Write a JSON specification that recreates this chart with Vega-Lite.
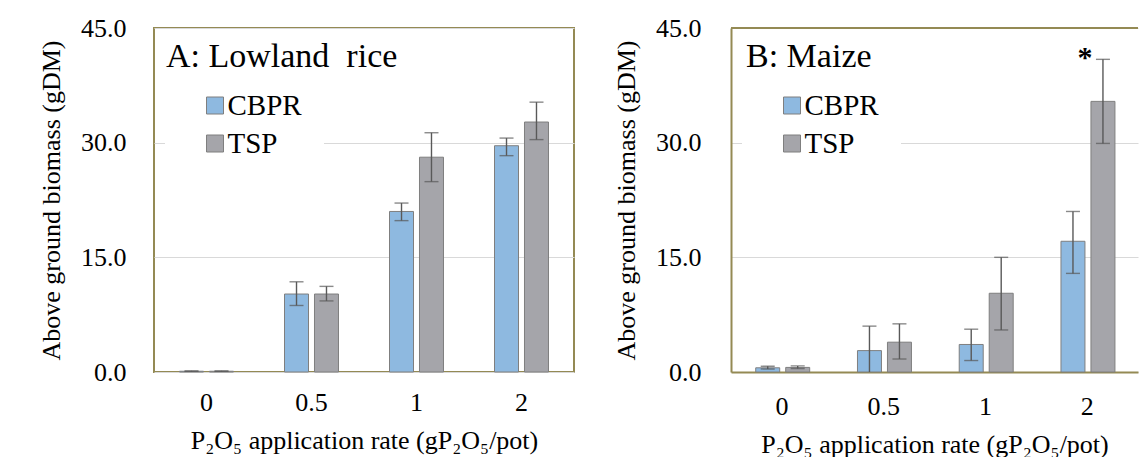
{
  "$schema": "https://vega.github.io/schema/vega-lite/v6.json",
  "background": "white",
  "padding": {"left": 37, "top": 14, "right": 0, "bottom": 0},
  "datasets": {
    "rice": [
      {"rate": "0", "type": "CBPR", "mean": 0.1, "lo": 0.05, "hi": 0.15},
      {"rate": "0", "type": "TSP", "mean": 0.1, "lo": 0.05, "hi": 0.15},
      {"rate": "0.5", "type": "CBPR", "mean": 10.2, "lo": 8.7, "hi": 11.8},
      {"rate": "0.5", "type": "TSP", "mean": 10.2, "lo": 9.3, "hi": 11.2},
      {"rate": "1", "type": "CBPR", "mean": 21.0, "lo": 19.8, "hi": 22.1},
      {"rate": "1", "type": "TSP", "mean": 28.1, "lo": 24.9, "hi": 31.3},
      {"rate": "2", "type": "CBPR", "mean": 29.6, "lo": 28.3, "hi": 30.6},
      {"rate": "2", "type": "TSP", "mean": 32.7, "lo": 30.4, "hi": 35.3}
    ],
    "maize": [
      {"rate": "0", "type": "CBPR", "mean": 0.55, "lo": 0.4, "hi": 0.75},
      {"rate": "0", "type": "TSP", "mean": 0.6, "lo": 0.45, "hi": 0.8},
      {"rate": "0.5", "type": "CBPR", "mean": 2.8, "lo": -0.4, "hi": 6.0},
      {"rate": "0.5", "type": "TSP", "mean": 3.9, "lo": 1.7, "hi": 6.3},
      {"rate": "1", "type": "CBPR", "mean": 3.6, "lo": 1.5, "hi": 5.6},
      {"rate": "1", "type": "TSP", "mean": 10.3, "lo": 5.5, "hi": 15.0},
      {"rate": "2", "type": "CBPR", "mean": 17.1, "lo": 12.9, "hi": 21.0},
      {"rate": "2", "type": "TSP", "mean": 35.4, "lo": 29.9, "hi": 40.9}
    ],
    "star": [
      {"rate": "2", "type": "TSP", "hi": 40.9, "label": "*"}
    ]
  },
  "config": {
    "font": "Liberation Serif",
    "view": {"stroke": "#948A54", "strokeWidth": 2},
    "axis": {
      "labelFontSize": 26,
      "titleFontSize": 26,
      "labelColor": "#000000",
      "titleColor": "#000000",
      "titleFontWeight": "normal",
      "ticks": false,
      "gridColor": "#d9d9d9",
      "gridWidth": 1.2
    },
    "legend": {
      "orient": "none",
      "legendX": 11,
      "legendY": 41,
      "padding": 22,
      "fillColor": "white",
      "symbolType": "square",
      "symbolSize": 289,
      "symbolStrokeColor": "#7f7f7f",
      "symbolStrokeWidth": 1,
      "symbolOffset": 13.5,
      "labelOffset": -2,
      "labelFontSize": 29,
      "labelColor": "#000000",
      "rowPadding": 8,
      "title": null
    },
    "title": {
      "fontSize": 34,
      "fontWeight": "normal",
      "color": "#000000",
      "anchor": "start",
      "frame": "group",
      "baseline": "alphabetic",
      "offset": 0
    }
  },
  "hconcat": [
    {
      "width": 420,
      "height": 344,
      "title": {"text": "A: Lowland\u00a0 rice", "dx": 12, "dy": 63, "font": "Liberation Serif"},
      "data": {"name": "rice"},
      "layer": [
        {
          "mark": {"type": "bar", "stroke": "#7f7f7f", "strokeWidth": 1},
          "encoding": {
            "x": {
              "field": "rate", "type": "nominal", "sort": ["0", "0.5", "1", "2"],
              "scale": {"paddingInner": 0.486, "paddingOuter": 0.243},
              "axis": {"title": "P₂O₅ application rate (gP₂O₅/pot)", "labelFont": "Liberation Serif", "titleFont": "Liberation Serif", "labelAngle": 0, "domain": false, "labelPadding": 17, "titlePadding": 12}
            },
            "xOffset": {"field": "type", "type": "nominal", "sort": ["CBPR", "TSP"], "scale": {"paddingInner": 0.2, "paddingOuter": 0}},
            "y": {
              "field": "mean", "type": "quantitative",
              "scale": {"domain": [0, 45]},
              "axis": {"title": "Above ground biomass (gDM)", "labelFont": "Liberation Serif", "titleFont": "Liberation Serif", "values": [0, 15, 30, 45], "format": ".1f", "domain": false, "labelPadding": 28, "titlePadding": 16}
            },
            "color": {
              "field": "type", "type": "nominal", "sort": ["CBPR", "TSP"],
              "scale": {"domain": ["CBPR", "TSP"], "range": ["#8EB9E0", "#A5A5AA"]},
              "legend": {"title": null, "labelFont": "Liberation Serif"}
            }
          }
        },
        {
          "mark": {"type": "rule", "color": "#595959", "strokeWidth": 1.4, "clip": true},
          "encoding": {
            "x": {"field": "rate", "type": "nominal", "sort": ["0", "0.5", "1", "2"]},
            "xOffset": {"field": "type", "type": "nominal", "sort": ["CBPR", "TSP"]},
            "y": {"field": "lo", "type": "quantitative"}, "y2": {"field": "hi"}
          }
        },
        {
          "mark": {"type": "tick", "color": "#595959", "thickness": 1.4, "size": 14, "clip": true},
          "encoding": {
            "x": {"field": "rate", "type": "nominal", "sort": ["0", "0.5", "1", "2"]},
            "xOffset": {"field": "type", "type": "nominal", "sort": ["CBPR", "TSP"]},
            "y": {"field": "lo", "type": "quantitative"}
          }
        },
        {
          "mark": {"type": "tick", "color": "#595959", "thickness": 1.4, "size": 14, "clip": true},
          "encoding": {
            "x": {"field": "rate", "type": "nominal", "sort": ["0", "0.5", "1", "2"]},
            "xOffset": {"field": "type", "type": "nominal", "sort": ["CBPR", "TSP"]},
            "y": {"field": "hi", "type": "quantitative"}
          }
        }
      ]
    },
    {
      "width": 407,
      "height": 344,
      "view": {"stroke": null},
      "title": {"text": "B: Maize", "dx": 15, "dy": 63, "font": "Liberation Serif"},
      "data": {"name": "maize"},
      "layer": [
        {
          "mark": {"type": "bar", "stroke": "#7f7f7f", "strokeWidth": 1},
          "encoding": {
            "x": {
              "field": "rate", "type": "nominal", "sort": ["0", "0.5", "1", "2"],
              "scale": {"paddingInner": 0.486, "paddingOuter": 0.243},
              "axis": {"title": "P₂O₅ application rate (gP₂O₅/pot)", "labelFont": "Liberation Serif", "titleFont": "Liberation Serif", "labelAngle": 0, "domain": true, "domainColor": "#948A54", "domainWidth": 2, "labelPadding": 21, "titlePadding": 12}
            },
            "xOffset": {"field": "type", "type": "nominal", "sort": ["CBPR", "TSP"], "scale": {"paddingInner": 0.2, "paddingOuter": 0}},
            "y": {
              "field": "mean", "type": "quantitative",
              "scale": {"domain": [0, 45]},
              "axis": {"title": "Above ground biomass (gDM)", "labelFont": "Liberation Serif", "titleFont": "Liberation Serif", "values": [0, 15, 30, 45], "format": ".1f", "domain": true, "domainColor": "#948A54", "domainWidth": 2, "labelPadding": 30, "titlePadding": 16}
            },
            "color": {
              "field": "type", "type": "nominal", "sort": ["CBPR", "TSP"],
              "scale": {"domain": ["CBPR", "TSP"], "range": ["#8EB9E0", "#A5A5AA"]},
              "legend": {"title": null, "labelFont": "Liberation Serif"}
            }
          }
        },
        {
          "mark": {"type": "rule", "color": "#595959", "strokeWidth": 1.4, "clip": true},
          "encoding": {
            "x": {"field": "rate", "type": "nominal", "sort": ["0", "0.5", "1", "2"]},
            "xOffset": {"field": "type", "type": "nominal", "sort": ["CBPR", "TSP"]},
            "y": {"field": "lo", "type": "quantitative"}, "y2": {"field": "hi"}
          }
        },
        {
          "mark": {"type": "tick", "color": "#595959", "thickness": 1.4, "size": 14, "clip": true},
          "encoding": {
            "x": {"field": "rate", "type": "nominal", "sort": ["0", "0.5", "1", "2"]},
            "xOffset": {"field": "type", "type": "nominal", "sort": ["CBPR", "TSP"]},
            "y": {"field": "lo", "type": "quantitative"}
          }
        },
        {
          "mark": {"type": "tick", "color": "#595959", "thickness": 1.4, "size": 14, "clip": true},
          "encoding": {
            "x": {"field": "rate", "type": "nominal", "sort": ["0", "0.5", "1", "2"]},
            "xOffset": {"field": "type", "type": "nominal", "sort": ["CBPR", "TSP"]},
            "y": {"field": "hi", "type": "quantitative"}
          }
        },
        {
          "data": {"values": [{"top": 45}]},
          "mark": {"type": "rule", "color": "#948A54", "strokeWidth": 2},
          "encoding": {"y": {"field": "top", "type": "quantitative"}}
        },
        {
          "data": {"name": "star"},
          "mark": {"type": "text", "fontSize": 30, "fontWeight": "bold", "font": "Liberation Serif", "dx": -18, "dy": 8, "baseline": "alphabetic", "align": "center", "color": "#000000"},
          "encoding": {
            "x": {"field": "rate", "type": "nominal", "sort": ["0", "0.5", "1", "2"]},
            "xOffset": {"field": "type", "type": "nominal", "sort": ["CBPR", "TSP"]},
            "y": {"field": "hi", "type": "quantitative"},
            "text": {"field": "label"}
          }
        }
      ]
    }
  ],
  "spacing": 157,
  "bounds": "flush",
  "resolve": {"scale": {"color": "independent"}, "legend": {"color": "independent"}}
}
